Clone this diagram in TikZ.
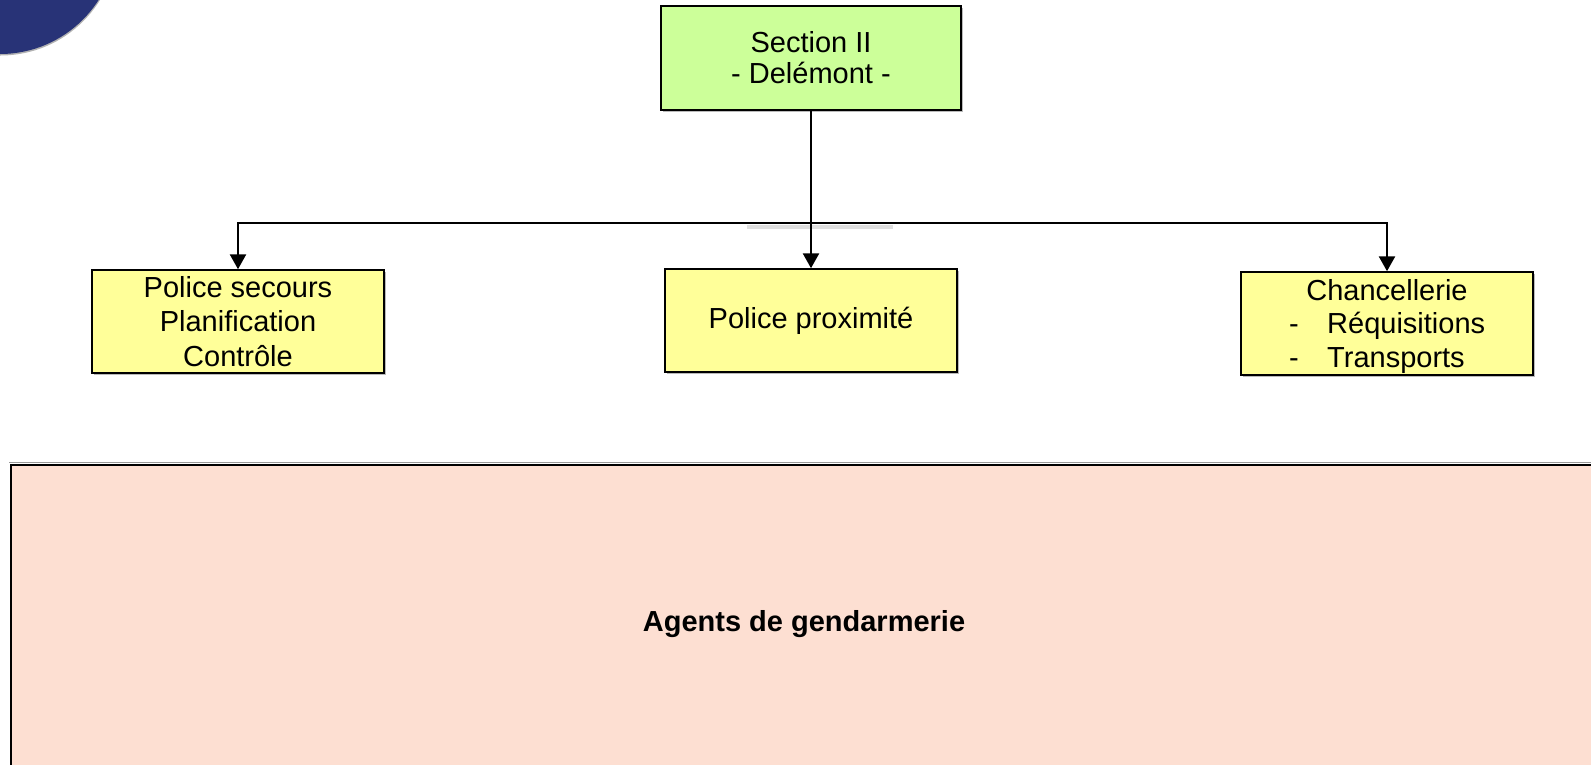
\documentclass[tikz,border=0pt]{standalone}
\usepackage{fontspec}
\setmainfont{Liberation Sans}
\usetikzlibrary{arrows.meta,shadows}
\definecolor{limebox}{HTML}{CCFF99}
\definecolor{palebox}{HTML}{FFFF99}
\definecolor{peachbox}{HTML}{FDDFD2}
\definecolor{navydisc}{HTML}{283377}
\tikzset{
  box/.style={draw=black, line width=1.5pt, inner sep=0pt, align=center,
    drop shadow={shadow xshift=1.5pt, shadow yshift=-1.5pt, fill=black!45, opacity=0.6}},
  txt/.style={font=\fontsize{29}{33}\selectfont, inner sep=0pt},
  arr/.style={line width=2.6pt, -{Triangle[width=16pt,length=15pt]}},
}
\begin{document}
\begin{tikzpicture}[x=1pt,y=-1pt]
\useasboundingbox (0,0) rectangle (1591,764);
\clip (0,0) rectangle (1591,764);
% corner disc
\fill[black!30] (0.5,-61.5) circle (117pt);
\fill[navydisc] (0,-63) circle (117pt);
% top box
\node[box, fill=limebox, minimum width=300pt, minimum height=104pt,
  font=\fontsize{29}{31}\selectfont] (sec) at (811,58) {Section II\\- Delémont -};
% second row
\node[box, fill=palebox, minimum width=292pt, minimum height=103pt,
  font=\fontsize{29}{34.5}\selectfont] (secours) at (238,321.5) {Police secours\\Planification\\Contrôle};
\node[box, fill=palebox, minimum width=292pt, minimum height=103pt,
  font=\fontsize{29}{33}\selectfont] (prox) at (811,320.5) {Police proximité};
\node[box, fill=palebox, minimum width=292pt, minimum height=103pt] (chanc) at (1387,323.5) {};
\node[txt, anchor=base] (c1) at (1387,300) {Chancellerie};
\node[txt, anchor=base west] (c2d) at (1289,333) {-};
\node[txt, anchor=base west] (c2) at (1327,333) {Réquisitions};
\node[txt, anchor=base west] (c3d) at (1289,367) {-};
\node[txt, anchor=base west] (c3) at (1327,367) {Transports};
% bottom box
\draw[black!40, line width=1.3pt] (9,462.4) -- (1600,462.4);
\node[draw=black, line width=1.8pt, fill=peachbox, anchor=north west, inner sep=0pt,
  minimum width=1620pt, minimum height=340pt] (agents) at (10,464) {};
\node[txt, anchor=base, font=\bfseries\fontsize{29}{33}\selectfont] (agtxt) at (804,631) {Agents de gendarmerie};
% connectors
\coordinate (bus) at (811,223);
\draw[black!20, line width=4pt, opacity=0.6] (747,226.5) -- (893,226.5);
\draw[arr] (sec.south) -- (prox.north);
\draw[arr] (bus) -| (secours.north);
\draw[arr] (bus) -| (chanc.north);
\end{tikzpicture}
\end{document}
